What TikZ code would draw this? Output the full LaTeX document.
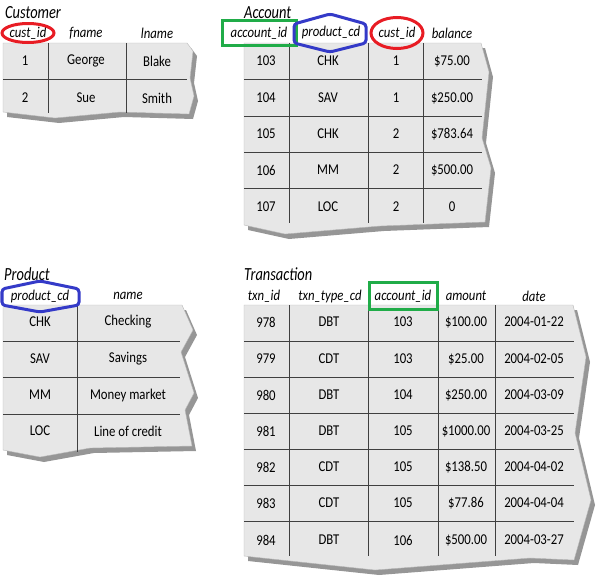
\documentclass[tikz,border=0pt]{standalone}
\usepackage{fontspec}
\setmainfont{Carlito}[FakeStretch=0.85]
\newfontfamily\titlefont{Carlito}[FakeStretch=0.78]
\definecolor{tabfill}{RGB}{231,231,231}
\definecolor{tabshade}{RGB}{150,150,150}
\definecolor{pkred}{RGB}{232,28,36}
\definecolor{fkgreen}{RGB}{32,172,72}
\definecolor{cdblue}{RGB}{52,58,200}
\tikzset{
  cell/.style={font=\fontsize{15}{17}\selectfont, inner sep=0pt},
  colhead/.style={font=\fontsize{15}{17}\selectfont\itshape, inner sep=0pt},
  tabtitle/.style={font=\titlefont\fontsize{18.5}{20}\selectfont\itshape, anchor=west, inner sep=0pt},
  tornbody/.style={fill=tabfill, draw=gray!55, line width=0.4pt},
  tornshade/.style={fill=tabshade},
  rule/.style={draw=black!75, line width=0.9pt},
  custkey/.style={draw=pkred, line width=3pt},
  acctkey/.style={draw=fkgreen, line width=3pt},
  prodkey/.style={draw=cdblue, line width=3pt, rounded corners=3pt}
}
\begin{document}
\begin{tikzpicture}[x=1pt, y=-1pt]
      \useasboundingbox (0,0) rectangle (598,581);
      % torn sheets, shadow first
      \begin{scope}[shift={(4,5)}]
        \fill[tornshade] (3,43) -- (187,43) -- (193,51) -- (190,78) -- (194,96) -- (189,114) -- (120,112) -- (55,118) -- (3,112) -- cycle;
        \fill[tornshade] (244,43) -- (481,43) -- (489,72) -- (482,138) -- (491,168) -- (485,222) -- (380,226) -- (285,234) -- (244,225) -- cycle;
        \fill[tornshade] (3,305) -- (182,305) -- (193,330) -- (181,352) -- (194,393) -- (185,410) -- (192,446) -- (90,448) -- (40,457) -- (3,450) -- cycle;
        \fill[tornshade] (244,305) -- (573,305) -- (586,357) -- (575,433) -- (591,500) -- (574,560) -- (530,558) -- (375,570) -- (244,556) -- cycle;
      \end{scope}
      \path[tornbody] (3,43) -- (187,43) -- (193,51) -- (190,78) -- (194,96) -- (189,114) -- (120,112) -- (55,118) -- (3,112) -- cycle;
      \path[tornbody] (244,43) -- (481,43) -- (489,72) -- (482,138) -- (491,168) -- (485,222) -- (380,226) -- (285,234) -- (244,225) -- cycle;
      \path[tornbody] (3,305) -- (182,305) -- (193,330) -- (181,352) -- (194,393) -- (185,410) -- (192,446) -- (90,448) -- (40,457) -- (3,450) -- cycle;
      \path[tornbody] (244,305) -- (573,305) -- (586,357) -- (575,433) -- (591,500) -- (574,560) -- (530,558) -- (375,570) -- (244,556) -- cycle;
      % grid rules
      \begin{scope}[rule]
        \draw (48,43) -- (48,113);
        \draw (126,43) -- (126,113);
        \draw (3,79) -- (187,79);
        \draw (289,43) -- (289,223);
        \draw (368,43) -- (368,223);
        \draw (423,43) -- (423,223);
        \draw (244,79) -- (482,79);
        \draw (244,116) -- (482,116);
        \draw (244,152) -- (482,152);
        \draw (244,188) -- (482,188);
        \draw (77,305) -- (77,452);
        \draw (3,341) -- (180,341);
        \draw (3,377) -- (180,377);
        \draw (3,414) -- (180,414);
        \draw (289,305) -- (289,556);
        \draw (368,305) -- (368,556);
        \draw (438,305) -- (438,556);
        \draw (495,305) -- (495,556);
        \draw (244,341) -- (574,341);
        \draw (244,377) -- (574,377);
        \draw (244,413) -- (574,413);
        \draw (244,449) -- (574,449);
        \draw (244,485) -- (574,485);
        \draw (244,521) -- (574,521);
      \end{scope}
      % Customer
      \node[tabtitle] (custtitle) at (5,13) {Customer};
      \draw
        (28,33) node[colhead] (ch1){cust\_id}
        (86,33) node[colhead] (ch2){fname}
        (157,33) node[colhead] (ch3){lname};
      \draw
        (25,61) node[cell] (c11){1}
        (86,61) node[cell] (c12){George}
        (157,61) node[cell] (c13){Blake}
        (25,98) node[cell] (c21){2}
        (86,98) node[cell] (c22){Sue}
        (157,98) node[cell] (c23){Smith};
      % Account
      \node[tabtitle] (accttitle) at (244,13) {Account};
      \draw
        (259,33) node[colhead] (ah1){account\_id}
        (331,33) node[colhead] (ah2){product\_cd}
        (397,33) node[colhead] (ah3){cust\_id}
        (452,33) node[colhead] (ah4){balance};
      \draw
        (266,61) node[cell] (a11){103}
        (328,61) node[cell] (a12){CHK}
        (396,61) node[cell] (a13){1}
        (452,61) node[cell] (a14){\$75.00}
        (266,98) node[cell] (a21){104}
        (328,98) node[cell] (a22){SAV}
        (396,98) node[cell] (a23){1}
        (452,98) node[cell] (a24){\$250.00}
        (266,134) node[cell] (a31){105}
        (328,134) node[cell] (a32){CHK}
        (396,134) node[cell] (a33){2}
        (452,134) node[cell] (a34){\$783.64}
        (266,170) node[cell] (a41){106}
        (328,170) node[cell] (a42){MM}
        (396,170) node[cell] (a43){2}
        (452,170) node[cell] (a44){\$500.00}
        (266,207) node[cell] (a51){107}
        (328,207) node[cell] (a52){LOC}
        (396,207) node[cell] (a53){2}
        (452,207) node[cell] (a54){0};
      % Product
      \node[tabtitle] (prodtitle) at (4,274) {Product};
      \draw
        (40,296) node[colhead] (ph1){product\_cd}
        (128,296) node[colhead] (ph2){name};
      \draw
        (40,322) node[cell] (p11){CHK}
        (128,322) node[cell] (p12){Checking}
        (40,359) node[cell] (p21){SAV}
        (128,359) node[cell] (p22){Savings}
        (40,395) node[cell] (p31){MM}
        (128,395) node[cell] (p32){Money market}
        (40,431) node[cell] (p41){LOC}
        (128,431) node[cell] (p42){Line of credit};
      % Transaction
      \node[tabtitle] (txntitle) at (244,274) {Transaction};
      \draw
        (264,296) node[colhead] (th1){txn\_id}
        (330,296) node[colhead] (th2){txn\_type\_cd}
        (403,296) node[colhead] (th3){account\_id}
        (466,296) node[colhead] (th4){amount}
        (534,296) node[colhead] (th5){date};
      \draw
        (266,322) node[cell] (t11){978}
        (329,322) node[cell] (t12){DBT}
        (403,322) node[cell] (t13){103}
        (466,322) node[cell] (t14){\$100.00}
        (534,322) node[cell] (t15){2004-01-22}
        (266,359) node[cell] (t21){979}
        (329,359) node[cell] (t22){CDT}
        (403,359) node[cell] (t23){103}
        (466,359) node[cell] (t24){\$25.00}
        (534,359) node[cell] (t25){2004-02-05}
        (266,395) node[cell] (t31){980}
        (329,395) node[cell] (t32){DBT}
        (403,395) node[cell] (t33){104}
        (466,395) node[cell] (t34){\$250.00}
        (534,395) node[cell] (t35){2004-03-09}
        (266,431) node[cell] (t41){981}
        (329,431) node[cell] (t42){DBT}
        (403,431) node[cell] (t43){105}
        (466,431) node[cell] (t44){\$1000.00}
        (534,431) node[cell] (t45){2004-03-25}
        (266,467) node[cell] (t51){982}
        (329,467) node[cell] (t52){CDT}
        (403,467) node[cell] (t53){105}
        (466,467) node[cell] (t54){\$138.50}
        (534,467) node[cell] (t55){2004-04-02}
        (266,503) node[cell] (t61){983}
        (329,503) node[cell] (t62){CDT}
        (403,503) node[cell] (t63){105}
        (466,503) node[cell] (t64){\$77.86}
        (534,503) node[cell] (t65){2004-04-04}
        (266,540) node[cell] (t71){984}
        (329,540) node[cell] (t72){DBT}
        (403,540) node[cell] (t73){106}
        (466,540) node[cell] (t74){\$500.00}
        (534,540) node[cell] (t75){2004-03-27};
      % key markers
      \draw[custkey] (ch1) ellipse [x radius=26, y radius=9.5];
      \draw[custkey] (397,33) ellipse [x radius=26, y radius=15.5];
      \draw[acctkey] (222,20) rectangle (296,45);
      \draw[acctkey] (369,282) rectangle (437,309);
      \draw[prodkey] (294,24) -- (330,14) -- (366,24) -- (366,43) -- (330,52) -- (294,43) -- cycle;
      \draw[prodkey] (2,289) -- (40,281) -- (79,289) -- (79,305) -- (40,312) -- (2,305) -- cycle;
    \end{tikzpicture}
\end{document}
